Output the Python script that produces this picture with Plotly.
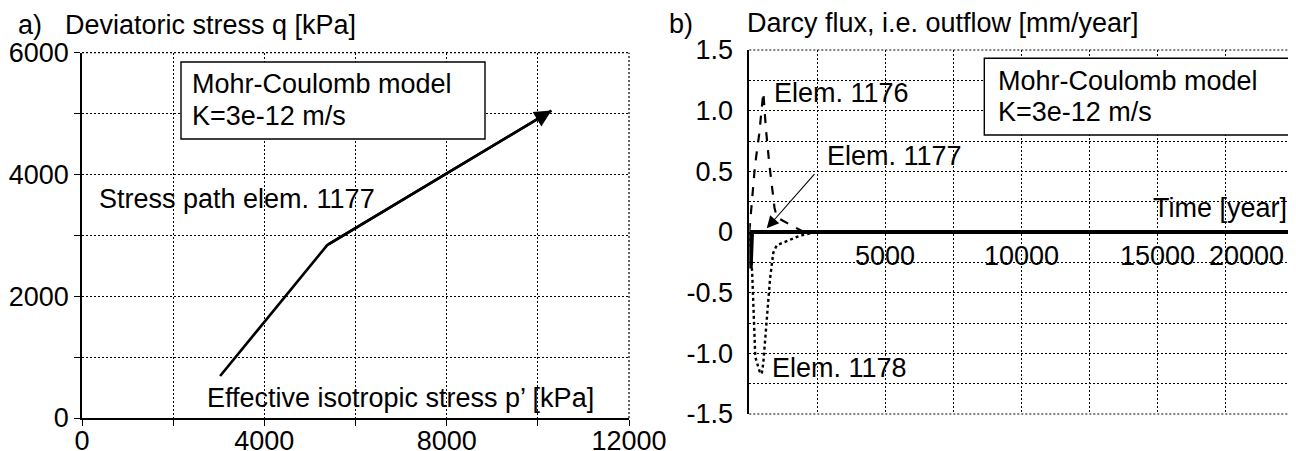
import plotly.graph_objects as go

# ---------------- data ----------------
# a) stress path of element 1177 (p' [kPa], q [kPa])
p_eff = [3030, 5380, 10300]
q_dev = [690, 2840, 5050]

# b) Darcy flux [mm/year] vs time [year]
t_1176 = [0, 60, 140, 210, 360, 470, 515, 610, 740, 925, 1010, 1500, 2000, 20000]
f_1176 = [0, 0.15, 0.35, 0.55, 0.8, 1.05, 1.15, 0.85, 0.55, 0.2, 0.12, 0.06, 0, 0]

t_1177 = [0, 50, 100, 20000]
f_1177 = [0, -0.3, 0, 0]

t_1178 = [0, 60, 110, 220, 380, 455, 514, 639, 760, 881, 1006, 1861, 2474, 20000]
f_1178 = [0, -0.15, -0.36, -1.03, -1.15, -1.17, -1.08, -0.75, -0.39, -0.17, -0.11, -0.03, 0, 0]

# axis ticks
a_xticks = [0, 2000, 4000, 6000, 8000, 10000, 12000]
a_xlabels = ["0", "", "4000", "", "8000", "", "12000"]
a_yticks = [0, 1000, 2000, 3000, 4000, 5000, 6000]
a_ylabels = ["0", "", "2000", "", "4000", "", "6000"]
b_xgrid = [0, 2500, 5000, 7500, 10000, 12500, 15000, 17500, 20000]
b_xlabels = [5000, 10000, 15000, 20000]
b_yticks = [-1.5, -1.25, -1.0, -0.75, -0.5, -0.25, 0, 0.25, 0.5, 0.75, 1.0, 1.25, 1.5]
b_ylabels = ["-1.5", "", "-1.0", "", "-0.5", "", "0", "", "0.5", "", "1.0", "", "1.5"]

# ---------------- layout helpers ----------------
W, H = 1296, 451
OFF = 8  # page body margin: the figure is drawn 8px right/down in the page
FONT = "Liberation Sans, Arial, sans-serif"
FS = 27


def fx(px):
    return (px - OFF) / W


def fy(py):
    return 1 - (py - OFF) / H


fig = go.Figure()

# a) stress path
fig.add_trace(go.Scatter(x=p_eff, y=q_dev, mode="lines",
                         line=dict(color="black", width=2.6),
                         xaxis="x", yaxis="y", showlegend=False))

# b) curves
fig.add_trace(go.Scatter(x=t_1178, y=f_1178, mode="lines",
                         line=dict(color="black", width=2.4, dash="dot"),
                         xaxis="x2", yaxis="y2", showlegend=False))
fig.add_trace(go.Scatter(x=t_1176, y=f_1176, mode="lines",
                         line=dict(color="black", width=2.2, dash="dash"),
                         xaxis="x2", yaxis="y2", showlegend=False))
fig.add_trace(go.Scatter(x=t_1177, y=f_1177, mode="lines",
                         line=dict(color="black", width=4),
                         xaxis="x2", yaxis="y2", showlegend=False))

grid = dict(showgrid=True, gridcolor="black", gridwidth=1.2, griddash="2px,2px",
            zeroline=False, automargin=False)
tickfont = dict(family=FONT, size=FS, color="black")

fig.update_layout(
    template="none",
    width=W, height=H,
    margin=dict(l=0, r=0, t=0, b=0, pad=0, autoexpand=False),
    paper_bgcolor="white", plot_bgcolor="white",
    showlegend=False,
    font=dict(family=FONT, size=FS, color="black"),
    xaxis=dict(domain=[fx(82), fx(629)], range=[0, 12000], anchor="y",
               tickvals=a_xticks, ticktext=a_xlabels, tickfont=tickfont,
               showline=True, linecolor="black", linewidth=1.6,
               ticks="outside", ticklen=6, tickcolor="black", tickwidth=1.2,
               ticklabelstandoff=-8,
               **grid),
    yaxis=dict(domain=[fy(418), fy(52.7)], range=[0, 6000], anchor="x",
               tickvals=a_yticks, ticktext=a_ylabels, tickfont=tickfont,
               showline=True, linecolor="black", linewidth=1.6,
               ticks="outside", ticklen=6, tickcolor="black", tickwidth=1.2,
               **grid),
    xaxis2=dict(domain=[fx(749.3), fx(1294)], range=[0, 20000], anchor="y2",
                tickvals=b_xgrid, showticklabels=False, ticks="",
                showline=False, **grid),
    yaxis2=dict(domain=[fy(414), fy(50)], range=[-1.5, 1.5], anchor="x2",
                tickvals=b_yticks, ticktext=b_ylabels, tickfont=tickfont,
                ticks="", ticklabelstandoff=9,
                showline=True, linecolor="black", linewidth=1.6,
                **grid),
)

# dotted plot borders (top / right, bottom for b) and text boxes
dotline = dict(color="black", width=1.2, dash="2px,2px")
shapes = [
    dict(type="line", xref="x domain", yref="y domain", x0=0, x1=1, y0=1, y1=1, line=dotline),
    dict(type="line", xref="x domain", yref="y domain", x0=1, x1=1, y0=0, y1=1, line=dotline),
    dict(type="line", xref="x2 domain", yref="y2 domain", x0=0, x1=1, y0=1, y1=1, line=dotline),
    dict(type="line", xref="x2 domain", yref="y2 domain", x0=0, x1=1, y0=0, y1=0, line=dotline),
    dict(type="line", xref="x2 domain", yref="y2 domain", x0=1, x1=1, y0=0, y1=1, line=dotline),
    dict(type="rect", xref="paper", yref="paper", x0=fx(181), x1=fx(485), y0=fy(139), y1=fy(62),
         line=dict(color="black", width=1.4), fillcolor="white", layer="above"),
    dict(type="rect", xref="paper", yref="paper", x0=fx(984.3), x1=fx(1288.7), y0=fy(135), y1=fy(58.3),
         line=dict(color="black", width=1.4), fillcolor="white", layer="above"),
]
fig.update_layout(shapes=shapes)

ann = []


def text(x, y, s, xanchor="left", **kw):
    d = dict(xref="paper", yref="paper", x=fx(x), y=fy(y), text=s,
             xanchor=xanchor, yanchor="middle", showarrow=False,
             font=dict(family=FONT, size=FS, color="black"))
    d.update(kw)
    ann.append(d)


# titles
text(16, 25, "a)")
text(63, 25, "Deviatoric stress q [kPa]")
text(667, 23.5, "b)")
text(745, 23, "Darcy flux, i.e. outflow [mm/year]")

# box texts
text(190, 84, "Mohr-Coulomb model")
text(190, 116, "K=3e-12 m/s")
text(996, 81, "Mohr-Coulomb model")
text(996, 112, "K=3e-12 m/s")

# panel a labels
text(97, 198.5, "Stress path elem. 1177")
text(205, 398, "Effective isotropic stress p’ [kPa]")

# panel b labels
text(771.7, 93, "Elem. 1176")
text(825, 156, "Elem. 1177")
text(770, 367.5, "Elem. 1178")
text(1288.7, 208, "Time [year]", xanchor="right")

# panel b x tick labels placed along the zero line
for v in b_xlabels:
    last = v == b_xlabels[-1]
    ann.append(dict(xref="x2", yref="y2", x=v, y=-0.2, text=str(v),
                    xanchor="right" if last else "center", yanchor="middle",
                    xshift=-8 if last else 0, showarrow=False,
                    font=dict(family=FONT, size=FS, color="black")))

# arrow head for the stress path
ann.append(dict(xref="x", yref="y", axref="x", ayref="y",
                x=p_eff[-1], y=q_dev[-1], ax=p_eff[-2], ay=q_dev[-2], text="",
                showarrow=True, arrowhead=2, arrowsize=1.3, arrowwidth=2.6,
                arrowcolor="black", standoff=0, startstandoff=0))

# arrow from "Elem. 1177" to its curve
ann.append(dict(xref="x2", yref="y2", axref="x2", ayref="y2",
                x=640, y=0.03, ax=2440, ay=0.49, text="",
                showarrow=True, arrowhead=2, arrowsize=2.2, arrowwidth=1.1,
                arrowcolor="black", standoff=0))

fig.update_layout(annotations=ann)

fig.write_html("out.html")
